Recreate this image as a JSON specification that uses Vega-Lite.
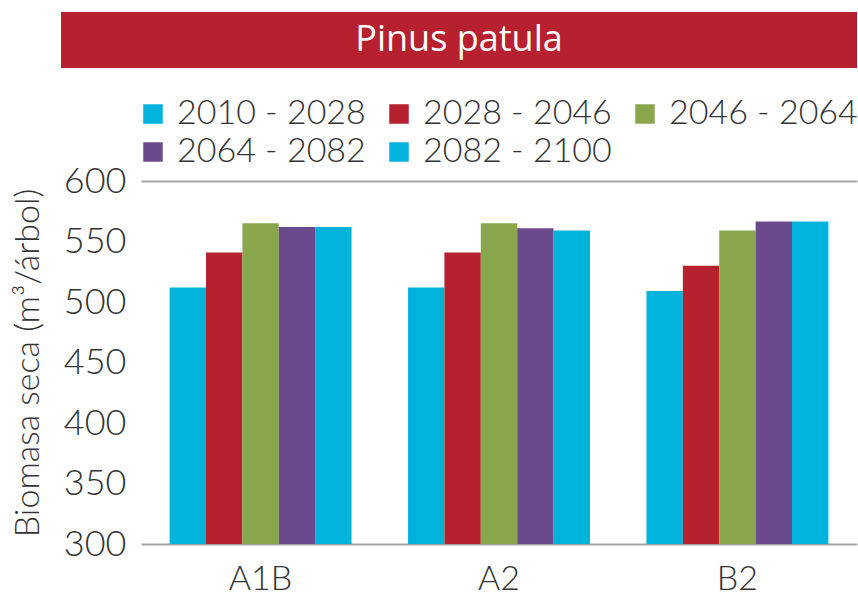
{
  "$schema": "https://vega.github.io/schema/vega-lite/v6.json",
  "background": "white",
  "padding": {"left": 11, "top": 12, "right": 0, "bottom": 0},
  "spacing": 29,
  "resolve": {"legend": {"color": "independent"}},
  "config": {"view": {"stroke": null}, "font": "Lato"},
  "vconcat": [
    {
      "width": 796,
      "height": 56,
      "view": {"fill": "#B7202E", "stroke": null},
      "data": {"values": [{"label": "Pinus patula"}]},
      "mark": {"type": "text", "color": "white", "font": "Open Sans", "fontSize": 36, "baseline": "middle", "align": "center"},
      "encoding": {
        "text": {"field": "label"}
      }
    },
    {
      "width": 796,
      "height": 363,
      "data": {"values": [
        {"escenario": "A1B", "periodo": "2010 - 2028", "biomasa": 512},
        {"escenario": "A1B", "periodo": "2028 - 2046", "biomasa": 541},
        {"escenario": "A1B", "periodo": "2046 - 2064", "biomasa": 565},
        {"escenario": "A1B", "periodo": "2064 - 2082", "biomasa": 562},
        {"escenario": "A1B", "periodo": "2082 - 2100", "biomasa": 562},
        {"escenario": "A2", "periodo": "2010 - 2028", "biomasa": 512},
        {"escenario": "A2", "periodo": "2028 - 2046", "biomasa": 541},
        {"escenario": "A2", "periodo": "2046 - 2064", "biomasa": 565},
        {"escenario": "A2", "periodo": "2064 - 2082", "biomasa": 561},
        {"escenario": "A2", "periodo": "2082 - 2100", "biomasa": 559},
        {"escenario": "B2", "periodo": "2010 - 2028", "biomasa": 509},
        {"escenario": "B2", "periodo": "2028 - 2046", "biomasa": 530},
        {"escenario": "B2", "periodo": "2046 - 2064", "biomasa": 559},
        {"escenario": "B2", "periodo": "2064 - 2082", "biomasa": 566.5},
        {"escenario": "B2", "periodo": "2082 - 2100", "biomasa": 566.5}
      ]},
      "mark": {"type": "bar", "strokeWidth": 0, "clip": true},
      "encoding": {
        "x": {
          "field": "escenario", "type": "nominal", "sort": ["A1B", "A2", "B2"],
          "scale": {"range": [80, 796], "paddingInner": 0.237, "paddingOuter": 0.12},
          "axis": {"title": null, "labelAngle": 0, "labelFont": "Lato", "labelFontWeight": 300, "labelFontSize": 34, "labelColor": "#333333", "labelPadding": 18, "domain": false, "ticks": false, "tickSize": 0, "grid": false}
        },
        "xOffset": {
          "field": "periodo", "type": "nominal",
          "sort": ["2010 - 2028", "2028 - 2046", "2046 - 2064", "2064 - 2082", "2082 - 2100"],
          "scale": {"paddingInner": 0, "paddingOuter": 0}
        },
        "y": {
          "field": "biomasa", "type": "quantitative",
          "scale": {"domain": [300, 600], "zero": false, "nice": false},
          "axis": {
            "offset": -80,
            "title": "Biomasa seca (m³/árbol)",
            "titleFont": "Lato", "titleFontWeight": 300, "titleFontSize": 34, "titleColor": "#333333", "titlePadding": 18,
            "values": [300, 350, 400, 450, 500, 550, 600],
            "labelFont": "Lato", "labelFontWeight": 300, "labelFontSize": 36, "labelColor": "#333333", "labelPadding": 15,
            "domain": false, "ticks": false, "tickSize": 0,
            "grid": true, "gridColor": "#a6a6a6", "gridWidth": 2,
            "gridOpacity": {"condition": {"test": "datum.value === 300 || datum.value === 600", "value": 1}, "value": 0}
          }
        },
        "color": {
          "field": "periodo", "type": "nominal",
          "sort": ["2010 - 2028", "2028 - 2046", "2046 - 2064", "2064 - 2082", "2082 - 2100"],
          "scale": {
            "domain": ["2010 - 2028", "2028 - 2046", "2046 - 2064", "2064 - 2082", "2082 - 2100"],
            "range": ["#00B3DC", "#B7202E", "#8AA64D", "#6A4A8C", "#00B3DC"]
          },
          "legend": {
            "title": null, "orient": "none", "legendX": 75, "legendY": -84,
            "direction": "horizontal", "columns": 3, "columnPadding": 16, "rowPadding": 4,
            "symbolType": "square", "symbolSize": 380, "symbolStrokeWidth": 0,
            "labelFont": "Lato", "labelFontWeight": 300, "labelFontSize": 34, "labelColor": "#333333", "labelOffset": 7,
            "labelLimit": 400
          }
        }
      }
    }
  ]
}
